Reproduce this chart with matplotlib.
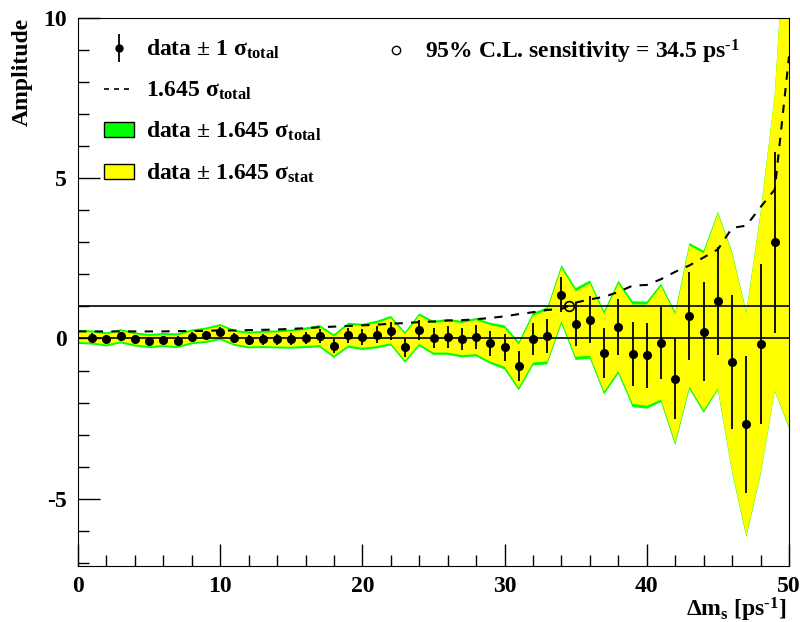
import numpy as np
import matplotlib
matplotlib.use("Agg")
import matplotlib.pyplot as plt
from matplotlib.lines import Line2D
from matplotlib.patches import Patch
from matplotlib.legend_handler import HandlerErrorbar
from matplotlib.container import ErrorbarContainer

plt.rcParams['font.family'] = ['Liberation Serif', 'DejaVu Serif']
plt.rcParams['font.weight'] = 'bold'
plt.rcParams['mathtext.fontset'] = 'custom'
plt.rcParams['mathtext.rm'] = 'Liberation Serif:bold'
plt.rcParams['mathtext.it'] = 'Liberation Serif:italic:bold'
plt.rcParams['mathtext.bf'] = 'Liberation Serif:bold'
plt.rcParams['axes.unicode_minus'] = False

# delta m_s scan points (ps^-1)
dms = np.arange(0, 51)
# fitted amplitude
amp = [0.05, 0.03, -0.03, 0.07, -0.03, -0.08, -0.05, -0.07, 0.05, 0.10,
       0.20, 0.02, -0.05, -0.03, -0.03, -0.02, 0.02, 0.07, -0.24, 0.10,
       0.05, 0.12, 0.24, -0.28, 0.27, 0.02, 0.05, -0.02, 0.04, -0.15,
       -0.28, -0.86, -0.02, 0.08, 1.37, 0.45, 0.59, -0.45, 0.35, -0.49,
       -0.52, -0.14, -1.25, 0.70, 0.21, 1.17, -0.74, -2.68, -0.17, 3.00,
       6.00]
# 1.645 sigma_total
tot = [0.22, 0.22, 0.22, 0.22, 0.22, 0.22, 0.22, 0.23, 0.23, 0.24,
       0.25, 0.25, 0.26, 0.27, 0.28, 0.30, 0.32, 0.35, 0.37, 0.39,
       0.41, 0.43, 0.46, 0.48, 0.51, 0.53, 0.56, 0.57, 0.60, 0.64,
       0.69, 0.76, 0.82, 0.89, 0.92, 1.12, 1.22, 1.30, 1.45, 1.65,
       1.67, 1.85, 2.08, 2.28, 2.53, 2.78, 3.45, 3.52, 4.10, 4.65,
       8.80]
# 1.645 sigma_stat
stat = [0.16, 0.16, 0.16, 0.16, 0.16, 0.16, 0.16, 0.17, 0.17, 0.18,
        0.19, 0.19, 0.20, 0.21, 0.22, 0.24, 0.25, 0.28, 0.30, 0.32,
        0.34, 0.36, 0.39, 0.41, 0.44, 0.46, 0.49, 0.50, 0.53, 0.57,
        0.60, 0.67, 0.73, 0.80, 0.83, 1.02, 1.13, 1.21, 1.36, 1.55,
        1.58, 1.77, 2.00, 2.20, 2.45, 2.73, 3.40, 3.47, 4.05, 4.63,
        8.75]
sens = 34.5

amp = np.array(amp)
tot = np.array(tot)
stat = np.array(stat)
sig = tot / 1.645

fs = 17
fig = plt.figure(figsize=(8, 6.22), dpi=100)
ax = fig.add_axes([78 / 800, 1 - 566 / 622, 711 / 800, 548 / 622])

ax.fill_between(dms, amp - tot, amp + tot, color='#00ff00', lw=0)
ax.fill_between(dms, amp - stat, amp + stat, color='#ffff00', lw=0)
ax.axhline(0, color='k', lw=1.2)
ax.axhline(1, color='k', lw=1.2)
ax.plot(dms, tot, color='k', lw=1.5, dashes=(4, 4))
ax.errorbar(dms[1:50], amp[1:50], yerr=sig[1:50], fmt='o', color='k',
            ms=5.5, elinewidth=1.3, capsize=0)
ax.plot([sens], [1], 'o', mfc='none', mec='k', ms=7, mew=1.2)

ax.set_xlim(0, 50)
ax.set_ylim(-7.1, 10)
ax.set_xticks(range(0, 51, 10))
ax.set_xticks(range(0, 51, 2), minor=True)
ax.set_yticks([-5, 0, 5, 10])
ax.set_yticks(range(-7, 11), minor=True)
ax.tick_params(which='both', direction='in', top=False, right=False,
               labelsize=fs, width=1)
ax.tick_params(which='major', length=16)
ax.tick_params(which='minor', length=8)
ax.tick_params(axis='x', pad=7)
ax.tick_params(axis='y', pad=8)

fig.text(22 / 800, 1 - 18 / 622, 'Amplitude', rotation=90, ha='center',
         va='top', fontsize=fs)
fig.text(786 / 800, 1 - 616 / 622, r'$\Delta$m$_{\rm s}$ [ps$^{\text{-1}}$]',
         ha='right', va='baseline', fontsize=fs)

h_data = ax.errorbar([np.nan], [np.nan], yerr=[1], fmt='o', color='k',
                     ms=5, elinewidth=1.3, capsize=0)
h_dash = Line2D([], [], color='k', lw=1.2, dashes=(3, 3))
h_green = Patch(facecolor='#00ff00', edgecolor='k', lw=1)
h_yellow = Patch(facecolor='#ffff00', edgecolor='k', lw=1)
leg1 = ax.legend([h_data, h_dash, h_green, h_yellow],
                 [r'data $\pm$ 1 σ$_{\rm total}$', r'1.645 σ$_{\rm total}$',
                  r'data $\pm$ 1.645 σ$_{\rm total}$',
                  r'data $\pm$ 1.645 σ$_{\rm stat}$'],
                 loc='upper left', bbox_to_anchor=(104 / 800, 1 - 38 / 622),
                 bbox_transform=fig.transFigure, frameon=False, fontsize=fs,
                 handlelength=1.25, handleheight=0.6, handletextpad=0.55,
                 labelspacing=0.77, borderpad=0, borderaxespad=0,
                 handler_map={ErrorbarContainer: HandlerErrorbar(yerr_size=0.6)})
ax.add_artist(leg1)
h_sens = Line2D([], [], ls='none', marker='o', mfc='none', mec='k', ms=6)
ax.legend([h_sens], [r'95% C.L. sensitivity = 34.5 ps$^{\text{-1}}$'],
          loc='upper left', bbox_to_anchor=(385 / 800, 1 - 38 / 622),
          bbox_transform=fig.transFigure, frameon=False, fontsize=fs,
          handlelength=0.9, handletextpad=0.8, borderpad=0, borderaxespad=0)

fig.savefig('out.png', dpi=100)
